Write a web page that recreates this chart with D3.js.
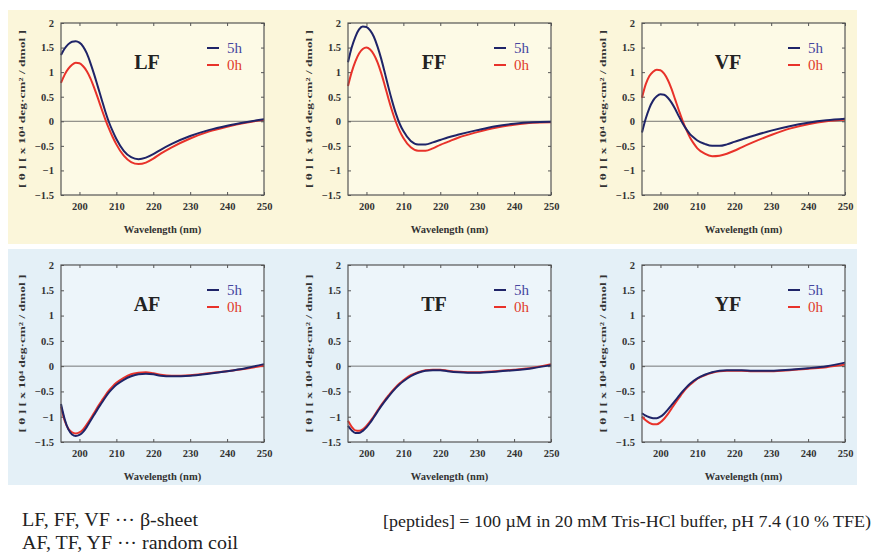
<!DOCTYPE html>
<html>
<head>
<meta charset="utf-8">
<script src="https://cdn.jsdelivr.net/npm/d3@7"></script>
<style>
  body { margin: 0; background: #fff; }
  svg { display: block; }
</style>
</head>
<body>
<svg id="chart" width="877" height="559"></svg>
<script>
// wavelength grid (nm) shared by every curve
const wavelengths = [195,196,197,198,199,200,201,202,203,204,205,206,207,208,209,210,212,214,216,218,220,222,225,230,235,240,245,250];

// mean residue ellipticity, x 10^4 deg cm2 / dmol
const LF_5h = [1.35,1.48,1.57,1.62,1.63,1.6,1.52,1.38,1.18,0.95,0.7,0.45,0.2,-0.02,-0.2,-0.36,-0.6,-0.73,-0.77,-0.74,-0.67,-0.58,-0.46,-0.3,-0.18,-0.09,-0.02,0.04];
const LF_0h = [0.78,0.95,1.07,1.15,1.19,1.18,1.12,1.02,0.87,0.68,0.47,0.25,0.04,-0.15,-0.32,-0.47,-0.7,-0.83,-0.87,-0.84,-0.76,-0.66,-0.53,-0.35,-0.21,-0.11,-0.03,0.03];
const FF_5h = [1.2,1.5,1.72,1.87,1.93,1.92,1.85,1.72,1.52,1.27,0.98,0.68,0.4,0.15,-0.05,-0.2,-0.4,-0.47,-0.47,-0.43,-0.38,-0.33,-0.27,-0.18,-0.1,-0.05,-0.02,-0.01];
const FF_0h = [0.72,1.0,1.22,1.38,1.47,1.5,1.46,1.36,1.2,0.98,0.72,0.45,0.2,-0.02,-0.2,-0.34,-0.53,-0.6,-0.6,-0.55,-0.48,-0.42,-0.33,-0.22,-0.13,-0.07,-0.03,-0.02];
const VF_5h = [-0.23,0.05,0.27,0.42,0.51,0.55,0.54,0.48,0.38,0.25,0.1,-0.04,-0.16,-0.26,-0.33,-0.39,-0.46,-0.5,-0.5,-0.47,-0.42,-0.37,-0.3,-0.19,-0.1,-0.03,0.02,0.05];
const VF_0h = [0.48,0.75,0.92,1.01,1.05,1.04,0.97,0.84,0.66,0.44,0.22,0.01,-0.17,-0.33,-0.45,-0.55,-0.66,-0.71,-0.7,-0.66,-0.6,-0.53,-0.43,-0.28,-0.15,-0.06,0.0,0.03];
const AF_5h = [-0.75,-1.05,-1.25,-1.35,-1.38,-1.36,-1.3,-1.2,-1.08,-0.96,-0.84,-0.73,-0.62,-0.52,-0.44,-0.37,-0.27,-0.2,-0.16,-0.15,-0.16,-0.19,-0.2,-0.19,-0.15,-0.1,-0.04,0.04];
const AF_0h = [-0.8,-1.08,-1.24,-1.31,-1.33,-1.31,-1.25,-1.15,-1.04,-0.92,-0.8,-0.69,-0.58,-0.48,-0.4,-0.33,-0.23,-0.16,-0.13,-0.12,-0.14,-0.17,-0.19,-0.18,-0.14,-0.1,-0.05,0.01];
const TF_5h = [-1.18,-1.27,-1.32,-1.32,-1.28,-1.21,-1.12,-1.01,-0.9,-0.79,-0.69,-0.6,-0.51,-0.43,-0.36,-0.3,-0.2,-0.13,-0.09,-0.08,-0.08,-0.1,-0.12,-0.13,-0.11,-0.08,-0.04,0.02];
const TF_0h = [-1.08,-1.2,-1.27,-1.28,-1.25,-1.18,-1.09,-0.99,-0.88,-0.77,-0.67,-0.58,-0.49,-0.41,-0.34,-0.28,-0.18,-0.12,-0.08,-0.07,-0.07,-0.09,-0.11,-0.12,-0.1,-0.07,-0.03,0.04];
const YF_5h = [-0.93,-0.98,-1.01,-1.03,-1.03,-1.0,-0.94,-0.86,-0.77,-0.68,-0.59,-0.5,-0.42,-0.35,-0.29,-0.24,-0.17,-0.12,-0.09,-0.08,-0.08,-0.08,-0.09,-0.09,-0.07,-0.04,0.0,0.07];
const YF_0h = [-1.0,-1.07,-1.12,-1.15,-1.15,-1.11,-1.04,-0.95,-0.84,-0.73,-0.63,-0.53,-0.44,-0.37,-0.31,-0.25,-0.18,-0.13,-0.1,-0.09,-0.09,-0.09,-0.1,-0.1,-0.08,-0.05,-0.02,0.03];

const peptides = ["LF", "FF", "VF", "AF", "TF", "YF"];
const series5h = [LF_5h, FF_5h, VF_5h, AF_5h, TF_5h, YF_5h];
const series0h = [LF_0h, FF_0h, VF_0h, AF_0h, TF_0h, YF_0h];
const xTicks = [200, 210, 220, 230, 240, 250];
const yTicks = [-1.5, -1, -0.5, 0, 0.5, 1, 1.5, 2];

const serif = "'Liberation Serif', 'DejaVu Serif', serif";
const svg = d3.select("#chart");

// coloured backgrounds for the two groups
svg.append("rect").attr("x", 8).attr("y", 10).attr("width", 849).attr("height", 234).attr("fill", "#fbf6da");
svg.append("rect").attr("x", 8).attr("y", 249).attr("width", 849).attr("height", 236).attr("fill", "#e4f0f7");

const colLeft = [61, 348, 642];
const rowTop = [23, 265];
const rowH = [172, 177];
const panelW = 203;

const col5h = "#1f2468", col0h = "#e8322a";

peptides.forEach(function(name, i) {
    const r = Math.floor(i / 3), c = i % 3;
    const x0 = colLeft[c], y0 = rowTop[r], h = rowH[r];
    const g = svg.append("g").attr("transform", `translate(${x0},${y0})`);

    const x = d3.scaleLinear().domain([195, 250]).range([0, panelW]);
    const y = d3.scaleLinear().domain([-1.5, 2]).range([h, 0]);

    g.append("rect").attr("width", panelW).attr("height", h)
        .attr("fill", r === 0 ? "#fdfae6" : "#edf5fa");

    // zero line
    g.append("line").attr("x1", 0).attr("x2", panelW)
        .attr("y1", y(0)).attr("y2", y(0))
        .attr("stroke", "#555").attr("stroke-width", 0.8);

    // inner ticks on all four sides
    const axStyle = function(sel) {
        sel.select(".domain").remove();
        sel.selectAll(".tick line").attr("stroke", "#555");
        sel.selectAll(".tick text").attr("fill", "#333")
            .style("font-size", "10.5px").style("font-weight", "bold");
    };
    g.append("g").attr("transform", `translate(0,${h})`)
        .call(d3.axisBottom(x).tickValues(xTicks).tickSize(-3).tickPadding(8))
        .call(axStyle);
    g.append("g")
        .call(d3.axisTop(x).tickValues(xTicks).tickSize(-3).tickFormat(""))
        .call(axStyle);
    g.append("g")
        .call(d3.axisLeft(y).tickValues(yTicks).tickSize(-3).tickPadding(7).tickFormat(d3.format("")))
        .call(axStyle);
    g.append("g").attr("transform", `translate(${panelW},0)`)
        .call(d3.axisRight(y).tickValues(yTicks).tickSize(-3).tickFormat(""))
        .call(axStyle);

    const line = d3.line()
        .x((d, k) => x(wavelengths[k]))
        .y(d => y(d))
        .curve(d3.curveMonotoneX);

    g.append("path").datum(series0h[i]).attr("d", line)
        .attr("fill", "none").attr("stroke", col0h).attr("stroke-width", 2);
    g.append("path").datum(series5h[i]).attr("d", line)
        .attr("fill", "none").attr("stroke", col5h).attr("stroke-width", 2);

    // frame
    g.append("rect").attr("width", panelW).attr("height", h)
        .attr("fill", "none").attr("stroke", "#555").attr("stroke-width", 1.2);

    // peptide name
    g.append("text").attr("x", 86).attr("y", 46).attr("text-anchor", "middle")
        .style("font-size", "20px").style("font-weight", "bold").attr("fill", "#222")
        .text(name);

    // legend
    const leg = [["5h", col5h, "#4646a0"], ["0h", col0h, "#e03a2a"]];
    leg.forEach(function(l, k) {
        const ly = 25 + k * 17;
        g.append("line").attr("x1", 146).attr("x2", 158).attr("y1", ly).attr("y2", ly)
            .attr("stroke", l[1]).attr("stroke-width", 2);
        g.append("text").attr("x", 166).attr("y", ly + 5)
            .style("font-size", "15px").attr("fill", l[2]).text(l[0]);
    });

    // axis titles
    g.append("text").attr("x", panelW / 2).attr("y", h + 38).attr("text-anchor", "middle")
        .style("font-size", "10.5px").style("font-weight", "bold").attr("fill", "#333")
        .text("Wavelength (nm)");
    g.append("text")
        .attr("transform", `translate(${-36},${h / 2}) rotate(-90)`)
        .attr("text-anchor", "middle")
        .attr("textLength", 158).attr("lengthAdjust", "spacingAndGlyphs")
        .style("font-size", "9px").style("font-weight", "bold").attr("fill", "#333")
        .text("[ θ ] [ x 10⁴ deg·cm² / dmol ]");
});

// notes underneath
svg.append("text").attr("x", 22).attr("y", 526).style("font-size", "18px").attr("fill", "#222")
    .attr("textLength", 176).attr("lengthAdjust", "spacingAndGlyphs")
    .text("LF, FF, VF ··· β-sheet");
svg.append("text").attr("x", 22).attr("y", 549).style("font-size", "18px").attr("fill", "#222")
    .attr("textLength", 216).attr("lengthAdjust", "spacingAndGlyphs")
    .text("AF, TF, YF ··· random coil");
svg.append("text").attr("x", 383).attr("y", 527).style("font-size", "16px").attr("fill", "#222")
    .attr("textLength", 488).attr("lengthAdjust", "spacingAndGlyphs")
    .text("[peptides] = 100 µM in 20 mM Tris-HCl buffer, pH 7.4 (10 % TFE)");

// serif everywhere, as in the original figure
svg.selectAll("text").style("font-family", serif);
</script>
</body>
</html>
